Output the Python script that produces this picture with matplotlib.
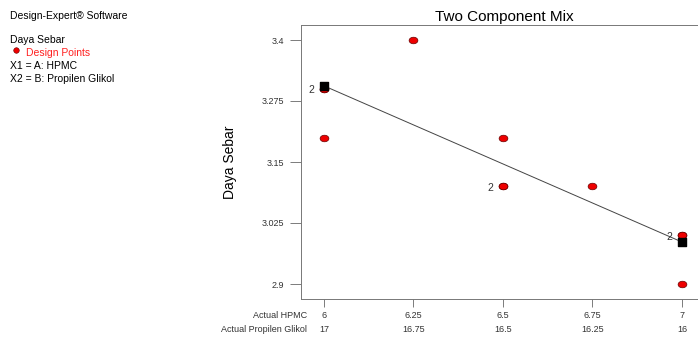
import numpy as np
import matplotlib.pyplot as plt

# DATA
hpmc = [6, 6, 6, 6.25, 6.5, 6.5, 6.5, 6.75, 7, 7, 7]
daya_sebar = [3.30, 3.30, 3.20, 3.40, 3.20, 3.10, 3.10, 3.10, 3.00, 3.00, 2.90]
fit_hpmc = [6, 7]
fit_daya = [3.306, 2.986]
x_ticks = [6, 6.25, 6.5, 6.75, 7]
pg_labels = ['17', '16.75', '16.5', '16.25', '16']
y_ticks = [2.9, 3.025, 3.15, 3.275, 3.4]

plt.rcParams['font.family'] = ['Liberation Sans', 'DejaVu Sans']

# slightly flattened dot, like the Design-Expert points
t = np.linspace(0, 2*np.pi, 40)
ellipse = np.c_[np.cos(t), 0.75*np.sin(t)]

fig = plt.figure(figsize=(6.98, 3.37), dpi=100)
ax = fig.add_axes([301/698, 1-299/337, 397/698, 274/337])

# prediction line and end squares
ax.plot(fit_hpmc, fit_daya, color='#444444', lw=0.7, zorder=2)
ax.scatter(fit_hpmc, fit_daya, marker='s', s=28, color='black', zorder=4)

# design points
ax.scatter(hpmc, daya_sebar, s=40, marker=ellipse, color='#ee0000',
           edgecolors='#660000', linewidths=0.5, zorder=3)

# replicate counts
pts = {}
for x, y in zip(hpmc, daya_sebar):
    pts[(x, y)] = pts.get((x, y), 0) + 1
for (x, y), n in pts.items():
    if n > 1:
        ax.annotate(str(n), (x, y), xytext=(-9, -1), textcoords='offset points',
                    ha='center', va='center', fontsize=7.5, color='#333333')

ax.set_xlim(6 - 23/358, 7 + 16/358)
ax.set_ylim(2.9 - 15/488, 3.4 + 15/488)
ax.set_xticks(x_ticks)
ax.set_xticklabels([])
ax.set_yticks(y_ticks)
ax.set_yticklabels(['2.9', '3.025', '3.15', '3.275', '3.4'])
ax.tick_params(axis='y', direction='out', length=8, width=0.6, colors='#666666',
               labelcolor='#333333', labelsize=6.5, pad=4)
ax.tick_params(axis='x', direction='out', length=6, width=0.6, colors='#666666')
ax.spines['right'].set_visible(False)
for s in ['left', 'top', 'bottom']:
    ax.spines[s].set_color('#777777')
    ax.spines[s].set_linewidth(0.7)

# two rows of x labels
for xv, lab in zip(x_ticks, x_ticks):
    ax.text(xv, -0.06, '%g' % lab, transform=ax.get_xaxis_transform(),
            ha='center', va='center', fontsize=6.5, color='#333333')
for xv, lab in zip(x_ticks, pg_labels):
    ax.text(xv, -0.11, lab, transform=ax.get_xaxis_transform(),
            ha='center', va='center', fontsize=6.5, color='#333333')
fig.text(307/698, 1-316/337, 'Actual HPMC', ha='right', va='center',
         fontsize=6.5, color='#333333')
fig.text(307/698, 1-330/337, 'Actual Propilen Glikol', ha='right', va='center',
         fontsize=6.5, color='#333333')

ax.set_ylabel('Daya Sebar', fontsize=10, labelpad=18)
fig.text(504/698, 1-17/337, 'Two Component Mix', ha='center', va='center',
         fontsize=11, color='black')

# info block
fig.text(10/698, 1-16/337, 'Design-Expert\u00ae Software', fontsize=7.5, va='center')
fig.text(10/698, 1-40/337, 'Daya Sebar', fontsize=7.5, va='center')
fig.text(26/698, 1-53/337, 'Design Points', fontsize=7.5, va='center', color='#ff2020')
fig.text(10/698, 1-66/337, 'X1 = A: HPMC', fontsize=7.5, va='center')
fig.text(10/698, 1-79/337, 'X2 = B: Propilen Glikol', fontsize=7.5, va='center')
fig.add_artist(plt.Line2D([16/698], [1-50/337], marker='o', markersize=4,
                          color='#ee0000', markeredgecolor='#660000', mew=0.4))

fig.savefig('out.png', dpi=100)
